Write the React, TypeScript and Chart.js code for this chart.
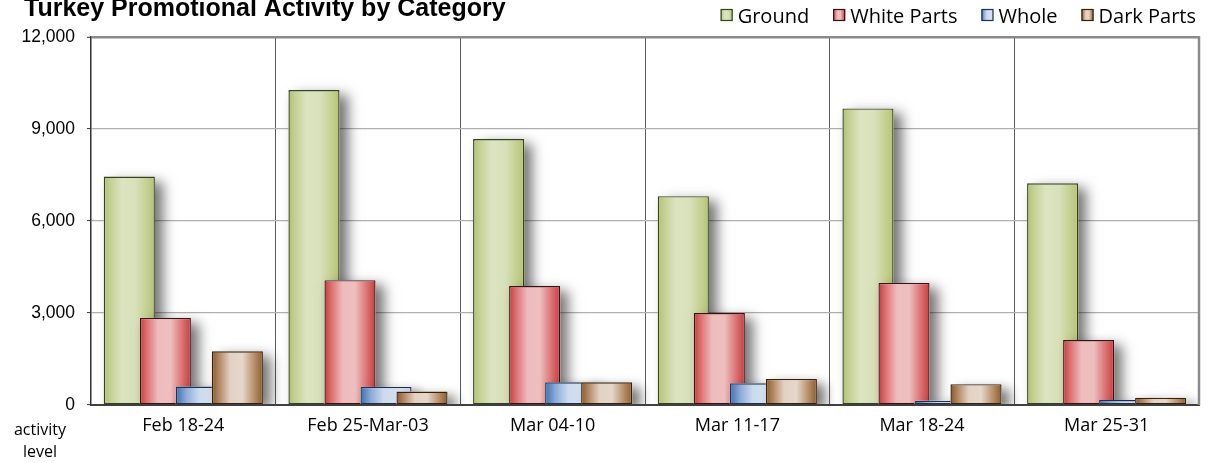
import React, { useEffect, useRef } from "react";
import { Chart, registerables } from "chart.js";

Chart.register(...registerables);

const categories = ["Feb 18-24", "Feb 25-Mar-03", "Mar 04-10", "Mar 11-17", "Mar 18-24", "Mar 25-31"];
const seriesNames = ["Ground", "White Parts", "Whole", "Dark Parts"];
const ground = [7450, 10270, 8670, 6810, 9670, 7230];
const whiteParts = [2840, 4070, 3880, 3000, 3980, 2120];
const whole = [600, 590, 740, 710, 140, 160];
const darkParts = [1750, 440, 740, 850, 680, 240];
const yMax = 12000;
const yStep = 3000;
const title = "Turkey Promotional Activity by Category";
const axisNote = ["activity", "level"];

const gradStops: [number, string][][] = [
  [[0, "#b2c172"], [0.15, "#c6d297"], [0.35, "#dbe3c0"], [0.62, "#d9e1bb"], [0.85, "#c4d08f"], [1, "#b5c374"]],
  [[0, "#c93a3c"], [0.14, "#dc7172"], [0.36, "#efbcbd"], [0.6, "#eebfbf"], [0.84, "#da6e6f"], [1, "#c93c3e"]],
  [[0, "#3c6db0"], [0.2, "#8aaad6"], [0.45, "#cbdaee"], [0.75, "#d6e2f2"], [1, "#d2dff0"]],
  [[0, "#8a582a"], [0.15, "#b48a66"], [0.36, "#e2d2c3"], [0.6, "#e5d7cb"], [0.85, "#b38963"], [1, "#8d5b2d"]],
];
const borderCols = ["#36401c", "#3a1010", "#1c3050", "#352008"];
const solidCols = ["#c8d49a", "#e08e8f", "#9fbbe0", "#c8a88a"];

function makeGrad(ctx: CanvasRenderingContext2D, left: number, width: number, di: number) {
  const g = ctx.createLinearGradient(left, 0, left + width, 0);
  gradStops[di].forEach(([o, c]) => g.addColorStop(o, c));
  return g;
}

const customDraw = {
  id: "customDraw",
  beforeDatasetsDraw(chart: any) {
    const ctx: CanvasRenderingContext2D = chart.ctx;
    const area = chart.chartArea;
    ctx.save();
    ctx.strokeStyle = "#8a8a8a";
    ctx.lineWidth = 2.5;
    ctx.beginPath();
    ctx.moveTo(area.right, area.top - 1);
    ctx.lineTo(area.right, area.bottom);
    ctx.stroke();
    ctx.restore();

    ctx.save();
    ctx.beginPath();
    ctx.rect(area.left, area.top - 5, area.right - area.left - 1, area.bottom - area.top + 4);
    ctx.clip();
    chart.data.datasets.forEach((ds: any, di: number) => {
      const meta = chart.getDatasetMeta(di);
      if (meta.hidden) return;
      meta.data.forEach((el: any) => {
        const p = el.getProps(["x", "y", "width", "base"], true);
        const left = p.x - p.width / 2;
        const top = Math.min(p.y, p.base);
        const h = Math.abs(p.base - p.y);
        ctx.save();
        ctx.shadowColor = "rgba(0,0,0,0.55)";
        ctx.shadowBlur = 12;
        ctx.shadowOffsetX = 8;
        ctx.shadowOffsetY = 5;
        ctx.fillStyle = "#ffffff";
        ctx.fillRect(left, top, p.width, h);
        ctx.restore();
        const orig = el.options;
        el.options = Object.assign({}, orig, { backgroundColor: makeGrad(ctx, left, p.width, di) });
        el.draw(ctx, area);
        el.options = orig;
      });
    });
    ctx.restore();
    return false;
  },
  afterDraw(chart: any) {
    const ctx: CanvasRenderingContext2D = chart.ctx;
    ctx.save();
    ctx.fillStyle = "#000";
    ctx.font = "bold 25px 'Liberation Sans', Arial, sans-serif";
    ctx.textAlign = "left";
    ctx.textBaseline = "alphabetic";
    ctx.fillText(title, 24, 16);

    ctx.font = "20px 'Open Sans', sans-serif";
    const boxSize = 12;
    const boxGap = 5;
    const itemGap = 24;
    const widths = seriesNames.map((n) => ctx.measureText(n).width);
    let total = 0;
    widths.forEach((w, i) => {
      total += boxSize + boxGap + w + (i < widths.length - 1 ? itemGap : 0);
    });
    let x = 1196 - total;
    seriesNames.forEach((n, i) => {
      const by = 9;
      ctx.fillStyle = makeGrad(ctx, x, boxSize, i);
      ctx.fillRect(x, by, boxSize, boxSize);
      ctx.strokeStyle = borderCols[i];
      ctx.lineWidth = 1.2;
      ctx.strokeRect(x + 0.5, by + 0.5, boxSize - 1, boxSize - 1);
      ctx.fillStyle = "#000";
      ctx.fillText(n, x + boxSize + boxGap, 23);
      x += boxSize + boxGap + widths[i] + itemGap;
    });

    ctx.font = "16px 'Open Sans', sans-serif";
    ctx.textAlign = "center";
    ctx.fillText(axisNote[0], 40, 435);
    ctx.fillText(axisNote[1], 40, 457);
    ctx.restore();
  },
};

export default function App() {
  const ref = useRef<HTMLCanvasElement | null>(null);
  useEffect(() => {
    if (!ref.current) return;
    const mk = (label: string, data: number[], i: number) => ({
      label,
      data,
      backgroundColor: solidCols[i],
      borderColor: borderCols[i],
      borderWidth: 1.4,
      borderSkipped: false,
      categoryPercentage: 0.78,
      barPercentage: 1.42,
    });
    const chart = new Chart(ref.current, {
      type: "bar",
      data: {
        labels: categories,
        datasets: [
          mk(seriesNames[0], ground, 0),
          mk(seriesNames[1], whiteParts, 1),
          mk(seriesNames[2], whole, 2),
          mk(seriesNames[3], darkParts, 3),
        ],
      },
      options: {
        responsive: false,
        animation: false,
        devicePixelRatio: 1,
        layout: { padding: { top: 37, right: 17, left: 0, bottom: 0 } },
        plugins: {
          legend: { display: false },
          title: { display: false },
          tooltip: { enabled: false },
        },
        scales: {
          x: {
            afterFit: (s: any) => {
              s.height = 58;
            },
            grid: {
              offset: true,
              drawTicks: false,
              color: (c: any) => (c.index === 0 ? "rgba(0,0,0,0)" : "#5a5a5a"),
              lineWidth: 1,
            },
            border: { color: "#404040", width: 2 },
            ticks: {
              color: "#000",
              font: { family: "'Open Sans', sans-serif", size: 18 },
              padding: 10,
              maxRotation: 0,
              autoSkip: false,
            },
          },
          y: {
            min: 0,
            max: yMax,
            afterFit: (s: any) => {
              s.width = 91;
            },
            grid: {
              color: (c: any) =>
                c.tick && c.tick.value === yMax ? "#8a8a8a" : c.tick && c.tick.value === 0 ? "rgba(0,0,0,0)" : "#b0b0b0",
              lineWidth: (c: any) => (c.tick && c.tick.value === yMax ? 2.5 : 1.2),
              drawTicks: true,
              tickLength: 4,
              tickColor: "#333",
              tickWidth: 1,
            },
            border: { color: "#333", width: 1.5 },
            ticks: {
              stepSize: yStep,
              color: "#000",
              padding: 12,
              font: { family: "'Liberation Sans', Arial, sans-serif", size: 17.5 },
              callback: (v: any) => Number(v).toLocaleString("en-US"),
            },
          },
        },
      },
      plugins: [customDraw],
    } as any);
    return () => chart.destroy();
  }, []);
  return (
    <div style={{ position: "absolute", left: 0, top: 0, width: 1216, height: 463, background: "#fff" }}>
      <canvas ref={ref} width={1216} height={463} />
    </div>
  );
}
